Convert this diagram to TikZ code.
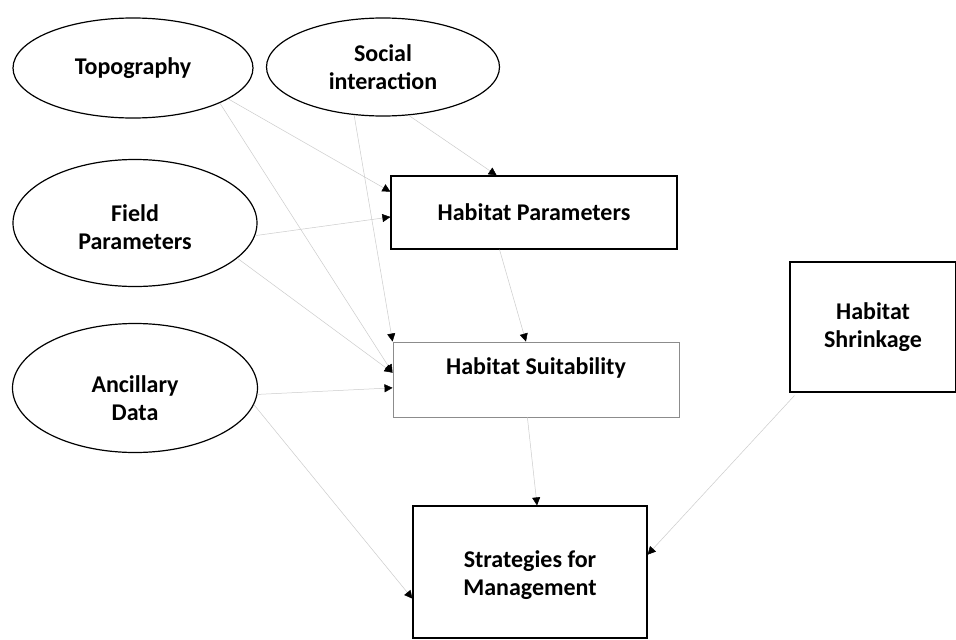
\documentclass[tikz,border=0pt]{standalone}
\usepackage{fontspec}
\setmainfont{Carlito}
\usetikzlibrary{shapes.geometric,arrows.meta,calc}
\begin{document}
\begin{tikzpicture}[x=1pt,y=-1pt,
  every node/.style={font=\fontsize{24}{28}\selectfont\bfseries, align=center},
  oval/.style={ellipse, draw=black, line width=1.2pt, inner sep=0pt},
  box/.style={rectangle, draw=black, line width=1.2pt, inner sep=0pt},
  lightbox/.style={rectangle, draw=black!45, line width=0.9pt, inner sep=0pt},
  conn/.style={draw=black!20, line width=0.5pt, -{Triangle[length=8pt,width=8pt,color=black]}}
]
\useasboundingbox (0,0) rectangle (956,640);
\fill[white] (0,0) rectangle (956,640);

% ellipses
\node[oval, minimum width=240pt, minimum height=100pt] (topo) at (133,68) {Topography};
\node[oval, minimum width=233pt, minimum height=98pt] (social) at (383,67) {Social\\interaction};
\node[oval, minimum width=244pt, minimum height=127pt] (field) at (135,223) {};
\node (fieldtext) at ($(field.center)+(0,4)$) {Field\\Parameters};
\node[oval, minimum width=245pt, minimum height=129pt] (ancil) at (135,388) {};
\node (anciltext) at ($(ancil.center)+(0,10)$) {Ancillary\\Data};

% boxes
\node[box, minimum width=286pt, minimum height=73pt] (hp) at (534,212.5) {Habitat Parameters};
\node[lightbox, minimum width=286pt, minimum height=75pt] (hs) at (536,379.5) {};
\node (hstext) at ($(hs.center)+(0,-12)$) {Habitat Suitability};
\node[box, minimum width=166pt, minimum height=130pt] (shr) at (873,327) {Habitat\\Shrinkage};
\node[box, minimum width=234pt, minimum height=132pt] (strat) at (530,572) {};
\node (strattext) at ($(strat.center)+(0,3)$) {Strategies for\\Management};

% connectors
\draw[conn] (topo.-18) -- ($(hp.north west)!0.22!(hp.south west)$);
\draw[conn] (topo.-22) -- ($(hs.north west)!0.41!(hs.south west)$);
\draw[conn] (social.-121) -- (hs.north west);
\draw[conn] (social.-62) -- ($(hp.north west)!0.37!(hp.north east)$);
\draw[conn] (field.-6) -- ($(hp.north west)!0.56!(hp.south west)$);
\draw[conn] (field.-19) -- ($(hs.north west)!0.41!(hs.south west)$);
\draw[conn] (ancil.-3) -- ($(hs.north west)!0.61!(hs.south west)$);
\draw[conn] (ancil.-8) -- ($(strat.north west)!0.70!(strat.south west)$);
\draw[conn] ($(hp.south west)!0.38!(hp.south east)$) -- ($(hs.north west)!0.465!(hs.north east)$);
\draw[conn] ($(hs.south west)!0.47!(hs.south east)$) -- ($(strat.north west)!0.53!(strat.north east)$);
\draw[conn] ($(shr.south west)+(5,3)$) -- ($(strat.north east)!0.37!(strat.south east)$);
\end{tikzpicture}
\end{document}
